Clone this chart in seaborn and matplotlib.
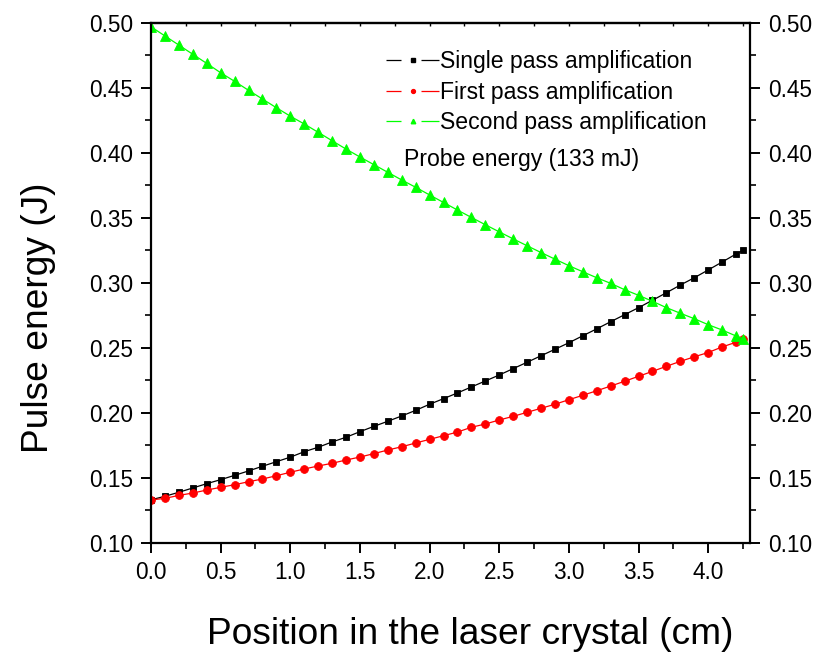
import numpy as np
import pandas as pd
import matplotlib
matplotlib.use("Agg")
import matplotlib.pyplot as plt
import seaborn as sns
from matplotlib.ticker import MultipleLocator, FormatStrFormatter
from matplotlib.lines import Line2D
from matplotlib.legend_handler import HandlerTuple

position = [0.0, 0.1, 0.2, 0.3, 0.4, 0.5, 0.6, 0.7, 0.8, 0.9,
            1.0, 1.1, 1.2, 1.3, 1.4, 1.5, 1.6, 1.7, 1.8, 1.9,
            2.0, 2.1, 2.2, 2.3, 2.4, 2.5, 2.6, 2.7, 2.8, 2.9,
            3.0, 3.1, 3.2, 3.3, 3.4, 3.5, 3.6, 3.7, 3.8, 3.9,
            4.0, 4.1, 4.2, 4.25]

single_pass = [0.1330, 0.1357, 0.1388, 0.1421, 0.1454, 0.1485, 0.1518, 0.1552, 0.1588, 0.1623,
               0.1658, 0.1700, 0.1734, 0.1775, 0.1811, 0.1854, 0.1895, 0.1934, 0.1975, 0.2018,
               0.2065, 0.2108, 0.2152, 0.2198, 0.2244, 0.2290, 0.2339, 0.2388, 0.2438, 0.2488,
               0.2538, 0.2592, 0.2645, 0.2700, 0.2754, 0.2808, 0.2865, 0.2923, 0.2982, 0.3038,
               0.3098, 0.3159, 0.3221, 0.3249]

first_pass = [0.1329, 0.1341, 0.1364, 0.1382, 0.1405, 0.1426, 0.1446, 0.1469, 0.1490, 0.1515,
              0.1542, 0.1567, 0.1590, 0.1611, 0.1636, 0.1659, 0.1685, 0.1713, 0.1738, 0.1767,
              0.1795, 0.1823, 0.1851, 0.1888, 0.1913, 0.1944, 0.1972, 0.2003, 0.2034, 0.2065,
              0.2100, 0.2134, 0.2169, 0.2205, 0.2242, 0.2280, 0.2318, 0.2357, 0.2395, 0.2430,
              0.2463, 0.2506, 0.2542, 0.2567]

second_pass = [0.4969, 0.4898, 0.4828, 0.4757, 0.4687, 0.4615, 0.4549, 0.4480, 0.4413, 0.4346,
               0.4281, 0.4221, 0.4157, 0.4092, 0.4028, 0.3967, 0.3908, 0.3849, 0.3790, 0.3734,
               0.3675, 0.3617, 0.3559, 0.3502, 0.3446, 0.3391, 0.3337, 0.3284, 0.3232, 0.3181,
               0.3131, 0.3084, 0.3038, 0.2995, 0.2946, 0.2903, 0.2857, 0.2808, 0.2765, 0.2723,
               0.2677, 0.2636, 0.2590, 0.2569]

labels = ["Single pass amplification", "First pass amplification", "Second pass amplification"]
annotation = "Probe energy (133 mJ)"
xlabel = "Position in the laser crystal (cm)"
ylabel = "Pulse energy (J)"

sns.set_style("ticks")
plt.rcParams['font.family'] = ['Liberation Sans', 'DejaVu Sans']
plt.rcParams['text.color'] = 'black'
plt.rcParams['axes.labelcolor'] = 'black'
plt.rcParams['xtick.color'] = 'black'
plt.rcParams['ytick.color'] = 'black'
plt.rcParams['lines.scale_dashes'] = False

fig = plt.figure(figsize=(8.30, 6.59), dpi=100)
ax = fig.add_axes([151/830, 1 - 542.7/659, (750-151)/830, (542.7-22.7)/659])

series = [
    (single_pass, "black", "s", 5.0),
    (first_pass, "#ff0000", "o", 5.6),
    (second_pass, "#00ff00", "^", 6.5),
]
handles = []
for (vals, col, mk, ms), lab in zip(series, labels):
    sns.lineplot(x=position, y=vals, ax=ax, color=col, marker=mk, markersize=ms,
                 markeredgecolor=col, markeredgewidth=0.6, linewidth=0.9, label=lab)
    seg = Line2D([], [], color=col, lw=0.9, linestyle=(0, (10.8, 14.4, 20, 1)))
    dot = Line2D([], [], color=col, marker=mk, linestyle='none',
                 markersize=ms * 0.5, markeredgecolor=col)
    handles.append((seg, dot))

ax.set_xlim(0, 4.3)
ax.set_ylim(0.10, 0.50)
ax.xaxis.set_major_locator(MultipleLocator(0.5))
ax.xaxis.set_minor_locator(MultipleLocator(0.25))
ax.yaxis.set_major_locator(MultipleLocator(0.05))
ax.yaxis.set_minor_locator(MultipleLocator(0.025))
ax.xaxis.set_major_formatter(FormatStrFormatter('%.1f'))
ax.yaxis.set_major_formatter(FormatStrFormatter('%.2f'))

for sp in ax.spines.values():
    sp.set_linewidth(1.6)
    sp.set_color("black")
    sp.set_visible(True)

ax.tick_params(which='major', direction='out', length=7, width=1.4, labelsize=16.3,
               right=True, labelright=True, top=False, pad=6)
ax.tick_params(which='minor', direction='out', length=4.5, width=1.2,
               right=True, top=False)

sec = ax.secondary_xaxis('top')
sec.set_xticks([0.25 * i for i in range(18)])
sec.tick_params(direction='in', length=2.5, width=1.0, labeltop=False)
sec.spines['top'].set_linewidth(1.6)

ax.set_xlabel(xlabel, fontsize=26.7)
ax.set_ylabel(ylabel, fontsize=26.7)
ax.xaxis.set_label_coords((470 - 151) / 599, -(635 - 542.7) / 520, transform=ax.transAxes)
ax.yaxis.set_label_coords(-(151 - 38) / 599, 1 - (318 - 22.7) / 520, transform=ax.transAxes)
ax.xaxis.label.set_va('center')
ax.yaxis.label.set_va('center')

leg = ax.legend(handles, labels, handler_map={tuple: HandlerTuple(ndivide=1, pad=0)},
                loc='upper left', bbox_to_anchor=(386/830, 1 - 50/659),
                bbox_transform=fig.transFigure, frameon=False, fontsize=16.6,
                handlelength=2.3, handletextpad=0.05, labelspacing=0.33,
                borderpad=0, borderaxespad=0)

fig.text(404/830, 1 - 160/659, annotation, fontsize=16.6, va='center', ha='left')

fig.savefig("out.png", dpi=100)
